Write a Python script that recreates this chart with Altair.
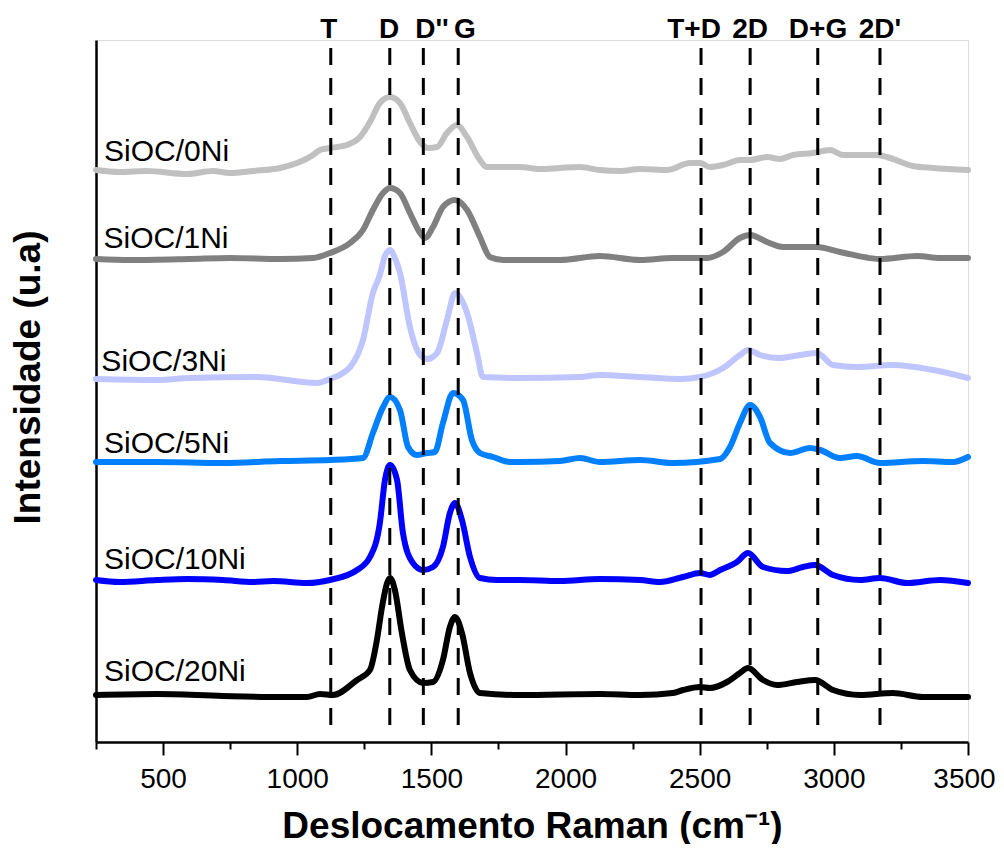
import altair as alt
import pandas as pd

FONT = "Liberation Sans"

# ---- spectra (Raman shift in cm-1, stacked intensity in arbitrary units) ----
names = ["SiOC/0Ni", "SiOC/1Ni", "SiOC/3Ni", "SiOC/5Ni", "SiOC/10Ni", "SiOC/20Ni"]
colors = ["#C0C0C0", "#808080", "#BFC5FF", "#0080FF", "#0000FF", "#000000"]

w_0 = [250, 337, 437, 589, 686, 749, 835, 936, 1059, 1085, 1122, 1185, 1234, 1271, 1308, 1346,
       1383, 1420, 1458, 1487, 1521, 1558, 1595, 1633, 1681, 1707, 1830, 1905, 1979, 2054, 2128,
       2203, 2278, 2378, 2464, 2501, 2538, 2587, 2650, 2688, 2751, 2799, 2848, 2922, 2986, 3034,
       3098, 3161, 3209, 3295, 3370, 3500]
i_0 = [572, 570, 571, 568, 571, 569, 571, 574, 587, 592, 594, 597, 605, 620, 639, 645,
       639, 619, 600, 594, 595, 609, 617, 605, 582, 575, 575, 573, 574, 575, 572,
       571, 573, 572, 579, 579, 575, 577, 582, 582, 585, 583, 587, 589, 592, 587,
       587, 587, 584, 576, 574, 572]

w_1 = [250, 377, 600, 749, 936, 1059, 1122, 1197, 1245, 1282, 1320, 1346, 1383, 1420, 1458,
       1476, 1506, 1543, 1588, 1633, 1681, 1718, 1767, 1830, 1979, 2128, 2278, 2400, 2527,
       2587, 2650, 2688, 2751, 2811, 2937, 3023, 3172, 3310, 3396, 3500]
i_1 = [483, 482, 483, 484, 483, 484, 489, 499, 512, 532, 549, 554, 549, 529, 509,
       504, 515, 535, 542, 532, 505, 485, 482, 482, 482, 486, 482, 484, 484,
       490, 504, 507, 500, 495, 495, 490, 483, 486, 484, 484]

w_3 = [250, 477, 600, 850, 1074, 1122, 1197, 1245, 1282, 1308, 1327, 1346, 1364, 1383, 1420,
       1458, 1484, 1521, 1558, 1588, 1633, 1670, 1692, 1830, 2054, 2128, 2278, 2427, 2501,
       2587, 2650, 2680, 2725, 2799, 2874, 2937, 2997, 3086, 3220, 3370, 3500]
i_3 = [363, 362, 364, 365, 359, 363, 375, 402, 449, 467, 486, 492, 484, 469, 415,
       387, 383, 389, 422, 449, 429, 389, 365, 364, 365, 367, 365, 363, 365,
       374, 387, 392, 387, 384, 387, 389, 377, 375, 377, 372, 364]

w_5 = [250, 477, 723, 936, 1122, 1245, 1282, 1320, 1346, 1383, 1413, 1446, 1484, 1513, 1543,
       1581, 1618, 1651, 1681, 1730, 1793, 1830, 1979, 2054, 2128, 2278, 2400, 2576, 2613,
       2650, 2688, 2725, 2762, 2837, 2911, 2949, 3023, 3086, 3172, 3332, 3444, 3500]
i_5 = [280, 280, 279, 281, 282, 284, 309, 335, 345, 332, 295, 287, 289, 290, 319,
       349, 342, 302, 289, 285, 280, 280, 281, 284, 280, 282, 279, 283, 295,
       319, 337, 325, 299, 289, 294, 292, 284, 286, 279, 281, 280, 285]

w_10 = [250, 337, 477, 589, 723, 836, 910, 1036, 1122, 1223, 1271, 1308, 1327, 1346, 1372,
        1394, 1431, 1469, 1506, 1543, 1569, 1588, 1614, 1644, 1681, 1745, 1830, 1979, 2128,
        2278, 2352, 2438, 2501, 2538, 2576, 2639, 2680, 2736, 2826, 2885, 2930, 2997, 3098,
        3172, 3273, 3396, 3500]
i_10 = [162, 160, 162, 163, 162, 160, 161, 159, 162, 172, 185, 219, 262, 277, 262,
        209, 179, 172, 175, 195, 229, 239, 222, 185, 164, 162, 162, 161, 163,
        162, 160, 165, 169, 167, 172, 180, 189, 175, 171, 175, 177, 167, 162,
        164, 159, 162, 159]

w_20 = [250, 477, 723, 936, 1036, 1085, 1133, 1223, 1271, 1297, 1316, 1335, 1346, 1364, 1390,
        1420, 1469, 1506, 1543, 1569, 1588, 1614, 1644, 1681, 1830, 2128, 2278, 2400, 2438,
        2501, 2538, 2602, 2650, 2680, 2736, 2788, 2863, 2930, 2997, 3098, 3220, 3332, 3500]
i_20 = [47, 48, 46, 45, 45, 48, 47, 62, 72, 102, 135, 159, 164, 152, 109,
        72, 59, 60, 82, 115, 125, 109, 69, 49, 47, 48, 47, 49, 52,
        55, 54, 60, 69, 74, 62, 57, 60, 62, 52, 47, 49, 45, 45]

# ---- band markers ----
band_labels = ["T", "D", "D''", "G", "T+D", "2D", "D+G", "2D'"]
band_pos = [1125, 1345, 1470, 1600, 2505, 2688, 2940, 3172]
band_label_x = [1118, 1342, 1502, 1625, 2479, 2688, 2941, 3172]

# ---- series label anchors (data units) ----
label_x = [280, 278, 270, 280, 280, 280]
label_y = [581, 494, 371, 289, 173, 61]

series = [w_0, w_1, w_3, w_5, w_10, w_20]
ints = [i_0, i_1, i_3, i_5, i_10, i_20]

rows = []
for name, ws, vs in zip(names, series, ints):
    for k, (a, b) in enumerate(zip(ws, vs)):
        rows.append({"serie": name, "w": a, "i": b, "ord": k})
df = pd.DataFrame(rows)

bands = pd.DataFrame({"label": band_labels, "pos": band_pos, "lx": band_label_x,
                      "top": [694] * len(band_pos), "bot": [9] * len(band_pos),
                      "ly": [704] * len(band_pos)})
labs = pd.DataFrame({"serie": names, "x": label_x, "y": label_y})

x_scale = alt.Scale(domain=[250, 3500], nice=False, zero=False)
y_scale = alt.Scale(domain=[0, 702], nice=False, zero=False)

x_axis = alt.Axis(
    values=list(range(250, 3501, 250)),
    labelExpr="datum.value % 500 === 0 ? datum.label : ''",
    format="d",
    tickSize={"condition": {"test": "datum.value % 500 === 0", "value": 13}, "value": 7},
    tickWidth=2, tickColor="black",
    domainColor="black", domainWidth=2.5,
    labelFont=FONT, labelFontSize=28, labelColor="black", labelPadding=10,
    labelOffset={"condition": {"test": "datum.value === 3500", "value": -4}, "value": 0},
    labelFlush=False, labelOverlap=False, grid=False,
    titleFont=FONT, titleFontSize=37, titleFontWeight="bold", titleColor="black",
    titleBaseline="alphabetic", titleY=95, titleX=436, titleAlign="center",
)
y_axis = alt.Axis(
    ticks=False, labels=False, grid=False,
    domainColor="black", domainWidth=2.5,
    titleFont=FONT, titleFontSize=37, titleFontWeight="bold", titleColor="black",
    titleAngle=270, titleBaseline="alphabetic", titleX=-57, titleY=337, titleAlign="center",
)

lines = alt.Chart(df).mark_line(strokeWidth=6, strokeJoin="round", strokeCap="round",
                                interpolate="monotone").encode(
    x=alt.X("w:Q", scale=x_scale, axis=x_axis, title="Deslocamento Raman (cm⁻¹)"),
    y=alt.Y("i:Q", scale=y_scale, axis=y_axis, title="Intensidade (u.a)"),
    color=alt.Color("serie:N", scale=alt.Scale(domain=names, range=colors), legend=None),
    order="ord:Q",
)

rules = alt.Chart(bands).mark_rule(color="black", strokeWidth=3, strokeDash=[17, 13]).encode(
    x=alt.X("pos:Q", scale=x_scale),
    y=alt.Y("top:Q", scale=y_scale),
    y2="bot:Q",
)

band_text = alt.Chart(bands).mark_text(font=FONT, fontSize=28, fontWeight="bold", color="black",
                                       align="center", baseline="alphabetic").encode(
    x=alt.X("lx:Q", scale=x_scale),
    y=alt.Y("ly:Q", scale=y_scale),
    text="label:N",
)

serie_text = alt.Chart(labs).mark_text(font=FONT, fontSize=30, color="black",
                                       align="left", baseline="alphabetic").encode(
    x=alt.X("x:Q", scale=x_scale),
    y=alt.Y("y:Q", scale=y_scale),
    text="serie:N",
)

chart = alt.layer(lines, rules, band_text, serie_text).properties(
    width=872, height=702,
    padding={"left": 88, "top": 32, "right": 28, "bottom": 102},
    autosize="none",
).configure_view(stroke="black", strokeWidth=1.5).configure(background="white")

chart.save("out.html", embed_options={"renderer": "svg", "actions": False})
